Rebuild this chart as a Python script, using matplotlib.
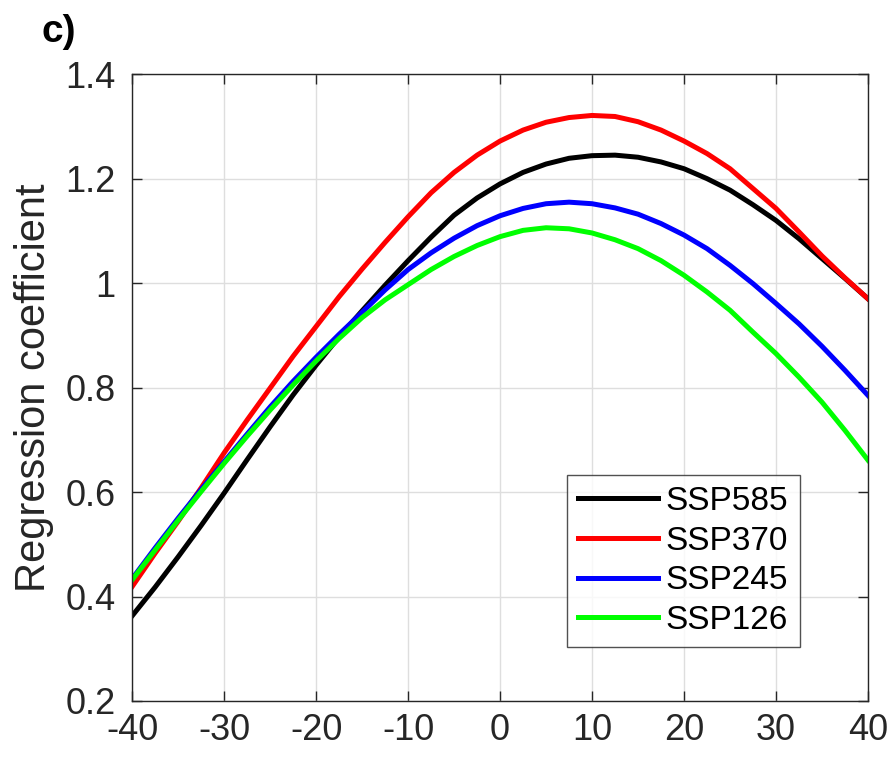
import matplotlib.pyplot as plt
from matplotlib.ticker import FuncFormatter

plt.rcParams['font.family'] = ['Liberation Sans', 'DejaVu Sans']
plt.rcParams['axes.unicode_minus'] = False

# values at 2.5-unit steps
lat = [-40, -37.5, -35, -32.5, -30, -27.5, -25, -22.5, -20, -17.5, -15, -12.5, -10,
       -7.5, -5, -2.5, 0, 2.5, 5, 7.5, 10, 12.5, 15, 17.5, 20, 22.5, 25, 27.5, 30,
       32.5, 35, 37.5, 40]
ssp585 = [0.363, 0.418, 0.476, 0.536, 0.598, 0.662, 0.725, 0.786, 0.843, 0.897, 0.947,
          0.996, 1.043, 1.088, 1.130, 1.163, 1.190, 1.212, 1.228, 1.239, 1.244, 1.245,
          1.241, 1.232, 1.219, 1.200, 1.178, 1.150, 1.120, 1.085, 1.047, 1.009, 0.970]
ssp370 = [0.419, 0.483, 0.544, 0.608, 0.675, 0.738, 0.799, 0.860, 0.917, 0.974, 1.027,
          1.078, 1.127, 1.173, 1.212, 1.245, 1.272, 1.293, 1.308, 1.317, 1.321, 1.319,
          1.309, 1.293, 1.272, 1.248, 1.219, 1.181, 1.143, 1.098, 1.052, 1.010, 0.970]
ssp245 = [0.434, 0.493, 0.550, 0.605, 0.658, 0.711, 0.763, 0.812, 0.858, 0.902, 0.944,
          0.987, 1.026, 1.058, 1.086, 1.110, 1.129, 1.143, 1.152, 1.155, 1.152, 1.144,
          1.132, 1.114, 1.092, 1.066, 1.034, 0.999, 0.961, 0.922, 0.879, 0.833, 0.785]
ssp126 = [0.432, 0.489, 0.546, 0.601, 0.655, 0.707, 0.757, 0.805, 0.851, 0.894, 0.934,
          0.968, 0.997, 1.026, 1.051, 1.072, 1.089, 1.101, 1.106, 1.104, 1.096, 1.083,
          1.066, 1.043, 1.015, 0.983, 0.948, 0.906, 0.865, 0.820, 0.772, 0.718, 0.661]

series = [('SSP585', ssp585, 'black'), ('SSP370', ssp370, 'red'),
          ('SSP245', ssp245, 'blue'), ('SSP126', ssp126, '#00ff00')]

fig = plt.figure(figsize=(8.93, 7.57), dpi=100)
ax = fig.add_axes([0.148, 0.074, 0.824, 0.828])

for name, vals, col in series:
    ax.plot(lat, vals, color=col, lw=3.6, label=name, solid_joinstyle='round')

ax.set_xlim(-40, 40)
ax.set_ylim(0.2, 1.4)
ax.set_xticks(range(-40, 41, 10))
ax.set_yticks([0.2, 0.4, 0.6, 0.8, 1.0, 1.2, 1.4])
ax.yaxis.set_major_formatter(FuncFormatter(lambda v, p: '%g' % round(v, 2)))
ax.grid(True, color='#dedede', lw=1)
ax.set_axisbelow(True)
ax.tick_params(direction='in', top=True, right=True, length=7, width=1,
               labelsize=26, colors='#262626')
ax.tick_params(axis='y', pad=12)
ax.tick_params(axis='x', pad=9)
for s in ax.spines.values():
    s.set_color('#262626')
    s.set_linewidth(1)

ax.set_ylabel('Regression coefficient', fontsize=30, color='#262626', labelpad=8)

leg = ax.legend(loc='lower right', bbox_to_anchor=(0.907, 0.086), borderaxespad=0,
                fontsize=24, frameon=True, fancybox=False, edgecolor='#262626',
                handlelength=2.4, handletextpad=0.25, labelspacing=0.26,
                borderpad=0.33)
leg.get_frame().set_linewidth(1)

fig.text(0.046, 0.958, 'c)', fontsize=28, fontweight='bold', ha='left', va='center')

fig.savefig('out.png', dpi=100)
